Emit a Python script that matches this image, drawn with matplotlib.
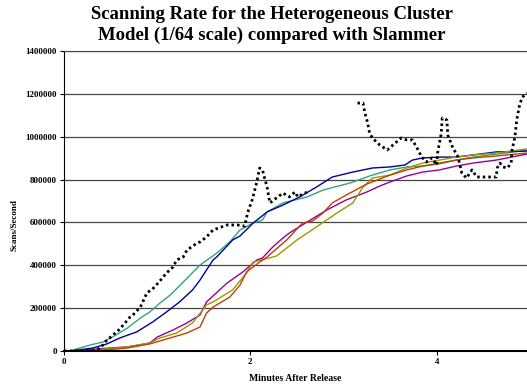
import numpy as np
import matplotlib
matplotlib.use("Agg")
import matplotlib.pyplot as plt

plt.rcParams["font.family"] = ["Liberation Serif", "DejaVu Serif"]
plt.rcParams["font.weight"] = "bold"

# Slammer observed scan rate (gap in the measurements between ~2.6 and ~3.15 min)
slam_min = [0, 0.17, 0.33, 0.39, 0.46, 0.49, 0.60, 0.71, 0.74, 0.82, 0.89, 0.95, 1.03, 1.10,
            1.17, 1.21, 1.28, 1.32, 1.43, 1.46, 1.53, 1.60, 1.75, 1.86, 1.94, 1.97, 2.02, 2.07,
            2.10, 2.13, 2.18, 2.21, 2.28, 2.35, 2.42, 2.48, 2.51, 2.58, 2.64, np.nan,
            3.15, 3.21, 3.23, 3.26, 3.28, 3.31, 3.39, 3.47, 3.53, 3.62, 3.68, 3.74, 3.79, 3.84,
            3.89, 3.95, 4.00, 4.01, 4.05, 4.06, 4.11, 4.12, 4.17, 4.23, 4.27, 4.32, 4.38, 4.43,
            4.54, 4.64, 4.65, 4.68, 4.71, 4.76, 4.80, 4.81, 4.84, 4.86, 4.89, 4.92, 4.97]
slam_rate = [0, 0, 4700, 14000, 51000, 61000, 103000, 159000, 168000, 205000, 271000, 289000,
             327000, 364000, 392000, 425000, 439000, 471000, 504000, 509000, 532000, 565000,
             588000, 588000, 583000, 644000, 705000, 789000, 854000, 845000, 765000, 691000,
             714000, 737000, 719000, 742000, 719000, 737000, 742000, np.nan,
             1157000, 1157000, 1111000, 1064000, 1017000, 994000, 961000, 938000, 961000,
             994000, 985000, 985000, 947000, 905000, 882000, 901000, 868000, 924000, 1017000,
             1087000, 1078000, 1008000, 952000, 905000, 831000, 807000, 845000, 812000, 812000,
             812000, 854000, 877000, 859000, 854000, 877000, 938000, 999000, 1078000, 1148000,
             1185000, 1204000]

# model runs
teal_min = [0, 0.06, 0.28, 0.42, 0.52, 0.68, 0.82, 0.92, 1.03, 1.14, 1.28, 1.46, 1.64, 1.78,
            1.89, 2.03, 2.13, 2.18, 2.35, 2.61, 2.78, 3.07, 3.31, 3.50, 3.68, 3.85, 4.03, 4.21,
            4.39, 4.57, 4.75, 4.97]
teal_rate = [0, 0, 28000, 42000, 65000, 107000, 154000, 182000, 224000, 261000, 322000, 401000,
             457000, 509000, 565000, 597000, 611000, 649000, 691000, 719000, 751000, 784000,
             821000, 845000, 859000, 863000, 873000, 891000, 905000, 915000, 924000, 938000]

blue_min = [0, 0.06, 0.31, 0.46, 0.60, 0.78, 0.95, 1.10, 1.24, 1.38, 1.46, 1.60, 1.64, 1.81,
            1.89, 2.03, 2.18, 2.35, 2.53, 2.71, 2.88, 3.10, 3.31, 3.50, 3.66, 3.74, 3.85, 4.03,
            4.21, 4.39, 4.64, 4.97]
blue_rate = [0, 0, 14000, 33000, 61000, 89000, 135000, 182000, 229000, 285000, 331000, 425000,
             439000, 518000, 537000, 597000, 649000, 681000, 719000, 765000, 812000, 835000,
             854000, 859000, 868000, 891000, 901000, 905000, 905000, 915000, 929000, 933000]

purple_min = [0, 0.06, 0.49, 0.68, 0.92, 1.00, 1.17, 1.32, 1.46, 1.53, 1.75, 1.92, 2.07, 2.13,
              2.24, 2.35, 2.42, 2.61, 2.82, 3.03, 3.25, 3.39, 3.50, 3.68, 3.85, 4.03, 4.21,
              4.39, 4.64, 4.97]
purple_rate = [0, 0, 14000, 19000, 37000, 65000, 98000, 131000, 168000, 229000, 317000, 369000,
               425000, 434000, 485000, 527000, 551000, 602000, 658000, 705000, 742000, 770000,
               789000, 817000, 835000, 845000, 863000, 877000, 891000, 919000]

olive_min = [0, 0.31, 0.42, 0.68, 0.92, 1.03, 1.21, 1.38, 1.53, 1.60, 1.81, 1.96, 2.03, 2.12,
             2.28, 2.50, 2.71, 2.93, 3.10, 3.21, 3.31, 3.50, 3.68, 3.85, 4.03, 4.21, 4.39,
             4.64, 4.97]
olive_rate = [0, 0, 9000, 19000, 37000, 61000, 84000, 131000, 215000, 229000, 285000, 364000,
              415000, 425000, 443000, 518000, 579000, 644000, 691000, 765000, 807000, 821000,
              854000, 877000, 891000, 905000, 915000, 924000, 943000]

orange_min = [0, 0.31, 0.68, 0.92, 1.14, 1.32, 1.46, 1.53, 1.60, 1.78, 1.89, 1.96, 2.10, 2.18,
              2.39, 2.56, 2.67, 2.78, 2.88, 3.03, 3.25, 3.50, 3.68, 3.85, 4.03, 4.21, 4.39,
              4.64, 4.97]
orange_rate = [0, 0, 14000, 33000, 61000, 84000, 112000, 177000, 205000, 252000, 308000, 369000,
               415000, 439000, 518000, 597000, 607000, 644000, 691000, 728000, 779000, 821000,
               845000, 863000, 877000, 891000, 901000, 910000, 924000]

fig = plt.figure(figsize=(5.27, 3.90), dpi=100)
ax = fig.add_axes([64 / 527, 39 / 390, 463 / 527, 300 / 390])

ax.plot(teal_min, teal_rate, color="#33A57A", lw=1.0)
ax.plot(blue_min, blue_rate, color="#000099", lw=1.0)
ax.plot(purple_min, purple_rate, color="#990099", lw=1.0)
ax.plot(olive_min, olive_rate, color="#999900", lw=1.0)
ax.plot(orange_min, orange_rate, color="#C04000", lw=1.0)
ax.plot(slam_min, slam_rate, color="black", lw=2.0, ls=(0, (0.9, 1.1)),
        dash_capstyle="butt", zorder=5)

ax.set_xlim(0, 4.97)
ax.set_ylim(0, 1400000)
ax.set_xticks([0, 2, 4])
ax.set_yticks(range(0, 1400001, 200000))
ax.ticklabel_format(axis="y", style="plain", useOffset=False)
ax.tick_params(labelsize=6.5, length=3, width=0.8, pad=2, direction="out")
for lab in ax.get_xticklabels() + ax.get_yticklabels():
    lab.set_fontweight("bold")
ax.yaxis.grid(True, color="#444444", lw=0.9)
ax.set_axisbelow(True)
ax.spines["right"].set_visible(False)
ax.spines["top"].set_color("#444444")
ax.spines["bottom"].set_linewidth(1.5)

fig.text(272 / 527, 1 - 25 / 390,
         "Scanning Rate for the Heterogeneous Cluster\nModel (1/64 scale) compared with Slammer",
         ha="center", va="center", fontsize=13.5, fontweight="bold", linespacing=1.35)
ax.set_xlabel("Minutes After Release", fontsize=7, fontweight="bold", labelpad=6)
fig.text(15 / 527, 1 - 225 / 390, "Scans/Second", rotation=90, ha="center", va="center",
         fontsize=6.5, fontweight="bold")

fig.savefig("out.png", dpi=100)
